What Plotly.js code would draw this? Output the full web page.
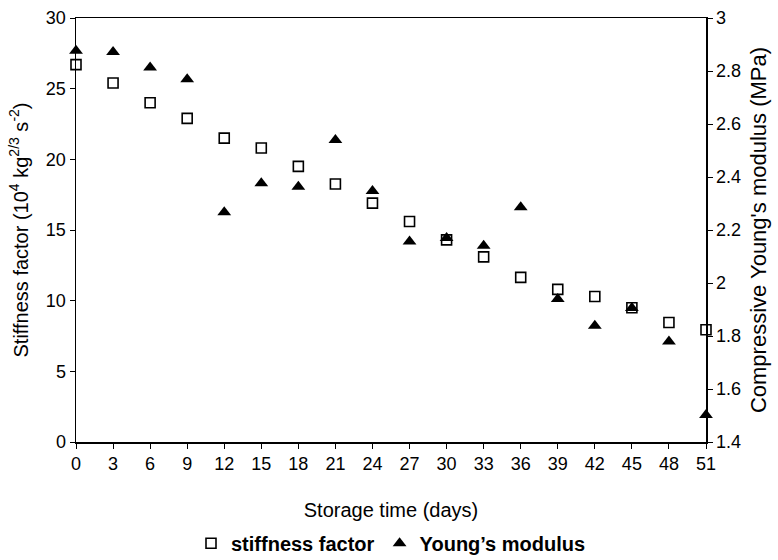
<!DOCTYPE html>
<html>
<head>
<meta charset="utf-8">
<script src="https://cdn.plot.ly/plotly-3.0.1.min.js"></script>
<style>html,body{margin:0;padding:0;background:#fff;}#chart{width:778px;height:560px;}</style>
</head>
<body>
<div id="chart"></div>
<script>
const days = [0,3,6,9,12,15,18,21,24,27,30,33,36,39,42,45,48,51];
const stiffness = [26.7,25.4,24.0,22.9,21.5,20.8,19.5,18.25,16.9,15.6,14.3,13.1,11.65,10.8,10.3,9.5,8.46,7.94];
const youngs = [2.876,2.872,2.813,2.769,2.267,2.376,2.363,2.54,2.347,2.157,2.17,2.141,2.286,1.94,1.839,1.906,1.779,1.502];
const xTicks = days;

const font = {family: 'Liberation Sans, Arial, sans-serif', color: '#000'};

const traces = [
  {
    x: days, y: stiffness, type: 'scatter', mode: 'markers', name: 'stiffness factor',
    marker: {symbol: 'square-open', size: 10, color: '#000', line: {width: 1.6, color: '#000'}},
    cliponaxis: false, yaxis: 'y'
  },
  {
    x: days, y: youngs, type: 'scatter', mode: 'markers', name: 'Young\u2019s modulus',
    marker: {symbol: 'triangle-up', size: 12, color: '#000'},
    cliponaxis: false, yaxis: 'y2'
  }
];

const layout = {
  width: 778, height: 560,
  margin: {l: 76, r: 72, t: 18, b: 118},
  paper_bgcolor: '#fff', plot_bgcolor: '#fff',
  font: Object.assign({size: 18}, font),
  showlegend: true,
  legend: {
    orientation: 'h', x: 0.5, xanchor: 'center', xref: 'paper',
    y: 0.03, yanchor: 'middle', yref: 'container',
    font: Object.assign({size: 20, weight: 'bold'}, font),
    itemwidth: 30, tracegroupgap: 0
  },
  xaxis: {
    range: [0, 51], tickvals: xTicks, ticktext: xTicks.map(String), automargin: false,
    showline: true, linecolor: '#000', linewidth: 1.5, mirror: true,
    ticks: 'outside', ticklen: 5, tickcolor: '#000', showgrid: false, zeroline: false,
    tickfont: Object.assign({size: 18}, font),
    title: {text: 'Storage time (days)', font: Object.assign({size: 20}, font), standoff: 30}
  },
  yaxis: {
    range: [0, 30], dtick: 5, tick0: 0, automargin: false,
    showline: true, linecolor: '#000', linewidth: 1.5,
    ticks: 'outside', ticklen: 5, tickcolor: '#000', showgrid: false, zeroline: false,
    tickfont: Object.assign({size: 18}, font),
    title: {text: 'Stiffness factor (10<sup>4</sup> kg<sup>2/3</sup> s<sup>-2</sup>)', font: Object.assign({size: 20}, font), standoff: 12}
  },
  yaxis2: {
    range: [1.4, 3], dtick: 0.2, tick0: 1.4, overlaying: 'y', side: 'right', automargin: false,
    showline: true, linecolor: '#000', linewidth: 1.5,
    ticks: 'outside', ticklen: 5, tickcolor: '#000', showgrid: false, zeroline: false,
    tickfont: Object.assign({size: 18}, font),
    title: {text: 'Compressive Young\'s modulus (MPa)', font: Object.assign({size: 22}, font), standoff: 10}
  }
};

Plotly.newPlot('chart', traces, layout, {displayModeBar: false, staticPlot: true});
</script>
</body>
</html>
